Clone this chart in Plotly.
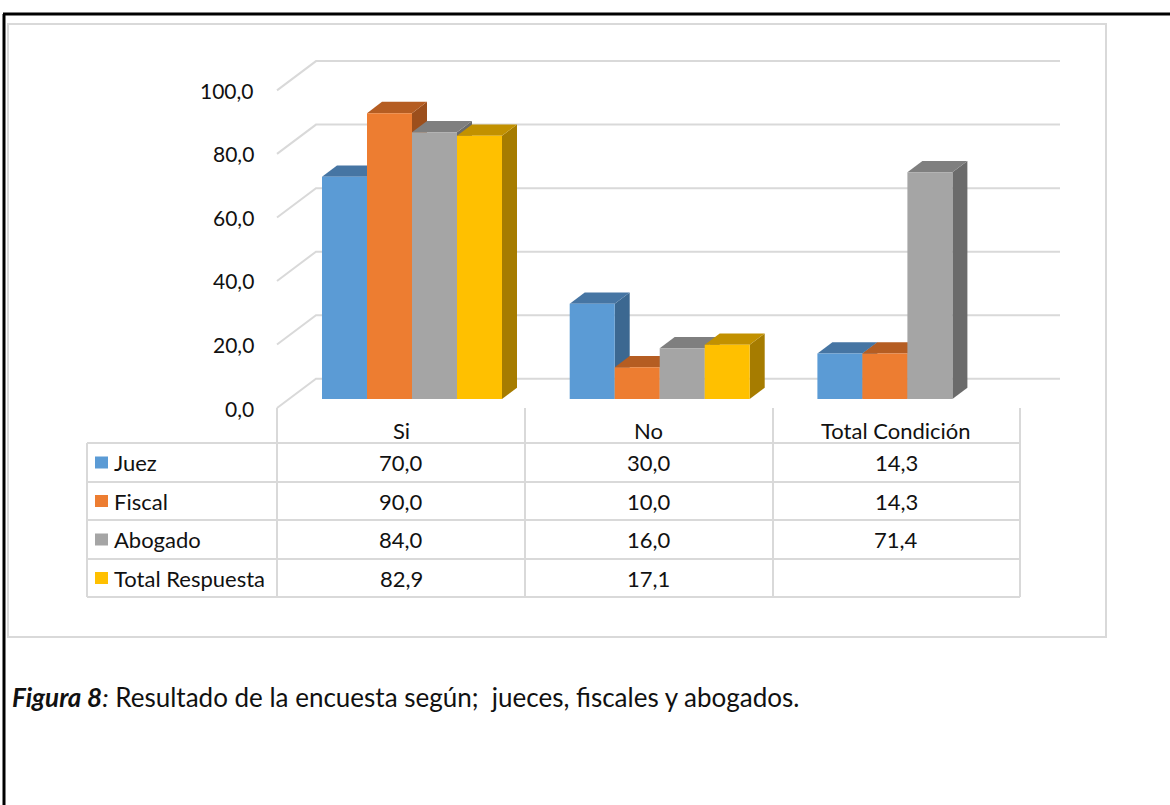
import plotly.graph_objects as go

# ---------------- data ----------------
categories = ["Si", "No", "Total Condición"]
series_names = ["Juez", "Fiscal", "Abogado", "Total Respuesta"]
juez = [70.0, 30.0, 14.3]
fiscal = [90.0, 10.0, 14.3]
abogado = [84.0, 16.0, 71.4]
total_respuesta = [82.9, 17.1, None]
series_values = [juez, fiscal, abogado, total_respuesta]
y_ticks = [0, 20, 40, 60, 80, 100]
caption_bold = "Figura 8"
caption_rest = ": Resultado de la encuesta según;  jueces, fiscales y abogados."

# ---------------- style ----------------
front_colors = ["#5B9BD5", "#ED7D31", "#A5A5A5", "#FFC000"]
top_colors = ["#4675A3", "#B55D22", "#7F7F7F", "#C29100"]
side_colors = ["#3C6891", "#9C4F1C", "#6B6B6B", "#A67C00"]
FONT = "Lato"
FS_TICK = 21
FS = 22
FS_CAP = 26
TXT = "#111111"
GRID = "#D9D9D9"

W, H = 1170, 805
PXX = 247.7   # pixels per category unit
PXY = 3.176   # pixels per value unit
X0PX = 401    # pixel of category 0 center
Y0PX = 399    # pixel of value 0 at bar front face


def ux(px):  # pixel offset -> x units
    return px / PXX


def uy(px):  # pixel offset (upward) -> y units
    return px / PXY


def paper_x(px):
    return px / W


def paper_y(py):
    return 1 - py / H


BW = ux(45)
SHIFT = ux(11)
DX, DY = ux(15), uy(11.3)          # bar depth
FLOOR_DX, FLOOR_DY = ux(39), uy(29.3)  # floor depth
FRONT_OFF = uy(-9)                  # floor front edge relative to bar front

fig = go.Figure()
shapes = []

# gridlines (front diagonal + back wall)
x_front = ux(277 - X0PX)
x_back = x_front + FLOOR_DX
x_end = ux(1060 - X0PX)
for t in y_ticks:
    yf = t + FRONT_OFF
    yb = yf + FLOOR_DY
    shapes.append(dict(type="path", xref="x", yref="y", layer="below",
                       path=f"M {x_front},{yf} L {x_back},{yb} L {x_end},{yb}",
                       line=dict(color=GRID, width=2)))

# bars: front faces as Bar traces, depth faces as shapes
for k, (name, vals) in enumerate(zip(series_names, series_values)):
    off = -2 * BW + k * BW + SHIFT
    fig.add_trace(go.Bar(x=list(range(len(categories))), y=vals, name=name,
                         width=BW, offset=off,
                         marker=dict(color=front_colors[k], line=dict(width=0)),
                         showlegend=False, hoverinfo="skip"))

for i in range(len(categories)):
    for k, vals in enumerate(series_values):
        v = vals[i]
        if v is None:
            continue
        x0 = i - 2 * BW + k * BW + SHIFT
        x1 = x0 + BW
        # side face
        shapes.append(dict(type="path", xref="x", yref="y", layer="below",
                           path=f"M {x1},0 L {x1},{v} L {x1+DX},{v+DY} L {x1+DX},{DY} Z",
                           fillcolor=side_colors[k], line=dict(width=0)))
        # top face
        shapes.append(dict(type="path", xref="x", yref="y", layer="below",
                           path=f"M {x0},{v} L {x1},{v} L {x1+DX},{v+DY} L {x0+DX},{v+DY} Z",
                           fillcolor=top_colors[k], line=dict(width=0)))

annotations = []
# y tick labels
for t in y_ticks:
    annotations.append(dict(xref="paper", yref="y", x=paper_x(256), y=t + FRONT_OFF,
                            text=f"{t:.1f}".replace(".", ","), showarrow=False,
                            xanchor="right", yanchor="middle",
                            font=dict(family=FONT, size=FS_TICK, color=TXT)))

# data table
col_lines = [277, 525, 773, 1020]
row_lines = [443, 482, 520, 559, 597]
left_px = 87
for cx in col_lines:
    shapes.append(dict(type="line", xref="paper", yref="paper",
                       x0=paper_x(cx), x1=paper_x(cx), y0=paper_y(408), y1=paper_y(597),
                       line=dict(color=GRID, width=2)))
shapes.append(dict(type="line", xref="paper", yref="paper",
                   x0=paper_x(left_px), x1=paper_x(left_px), y0=paper_y(443), y1=paper_y(597),
                   line=dict(color=GRID, width=2)))
for ry in row_lines:
    shapes.append(dict(type="line", xref="paper", yref="paper",
                       x0=paper_x(left_px), x1=paper_x(1020), y0=paper_y(ry), y1=paper_y(ry),
                       line=dict(color=GRID, width=2)))

for i, c in enumerate(categories):
    annotations.append(dict(xref="x", yref="paper", x=i, y=paper_y(430), text=c,
                            showarrow=False, xanchor="center", yanchor="middle",
                            font=dict(family=FONT, size=FS, color=TXT)))

for k, (name, vals) in enumerate(zip(series_names, series_values)):
    cy = (row_lines[k] + row_lines[k + 1]) / 2
    shapes.append(dict(type="rect", xref="paper", yref="paper",
                       x0=paper_x(95), x1=paper_x(108), y0=paper_y(cy + 6), y1=paper_y(cy - 6),
                       fillcolor=front_colors[k], line=dict(width=0)))
    annotations.append(dict(xref="paper", yref="paper", x=paper_x(112), y=paper_y(cy),
                            text=name, showarrow=False, xanchor="left", yanchor="middle",
                            font=dict(family=FONT, size=FS, color=TXT)))
    for i, v in enumerate(vals):
        if v is None:
            continue
        annotations.append(dict(xref="x", yref="paper", x=i, y=paper_y(cy),
                                text=f"{v:.1f}".replace(".", ","), showarrow=False,
                                xanchor="center", yanchor="middle",
                                font=dict(family=FONT, size=FS, color=TXT)))

# chart area border
shapes.append(dict(type="rect", xref="paper", yref="paper", layer="below",
                   x0=paper_x(8), x1=paper_x(1106), y0=paper_y(637), y1=paper_y(24),
                   line=dict(color=GRID, width=2), fillcolor="rgba(0,0,0,0)"))
# page borders
shapes.append(dict(type="line", xref="paper", yref="paper",
                   x0=paper_x(3), x1=1, y0=paper_y(14), y1=paper_y(14),
                   line=dict(color="#000000", width=3)))
shapes.append(dict(type="line", xref="paper", yref="paper",
                   x0=paper_x(4), x1=paper_x(4), y0=paper_y(14), y1=0,
                   line=dict(color="#000000", width=3)))

# caption
annotations.append(dict(xref="paper", yref="paper", x=paper_x(10), y=paper_y(697),
                        text=f"<b><i>{caption_bold}</i></b><i>:</i>{caption_rest[1:]}",
                        showarrow=False, xanchor="left", yanchor="middle",
                        font=dict(family=FONT, size=FS_CAP, color=TXT)))

fig.update_layout(
    width=W, height=H, margin=dict(l=0, r=0, t=0, b=0),
    paper_bgcolor="white", plot_bgcolor="rgba(0,0,0,0)",
    barmode="overlay",
    xaxis=dict(range=[ux(-X0PX), ux(W - X0PX)], visible=False, fixedrange=True),
    yaxis=dict(range=[uy(Y0PX - H), uy(Y0PX)], visible=False, fixedrange=True),
    shapes=shapes, annotations=annotations,
)

fig.write_html("out.html")
